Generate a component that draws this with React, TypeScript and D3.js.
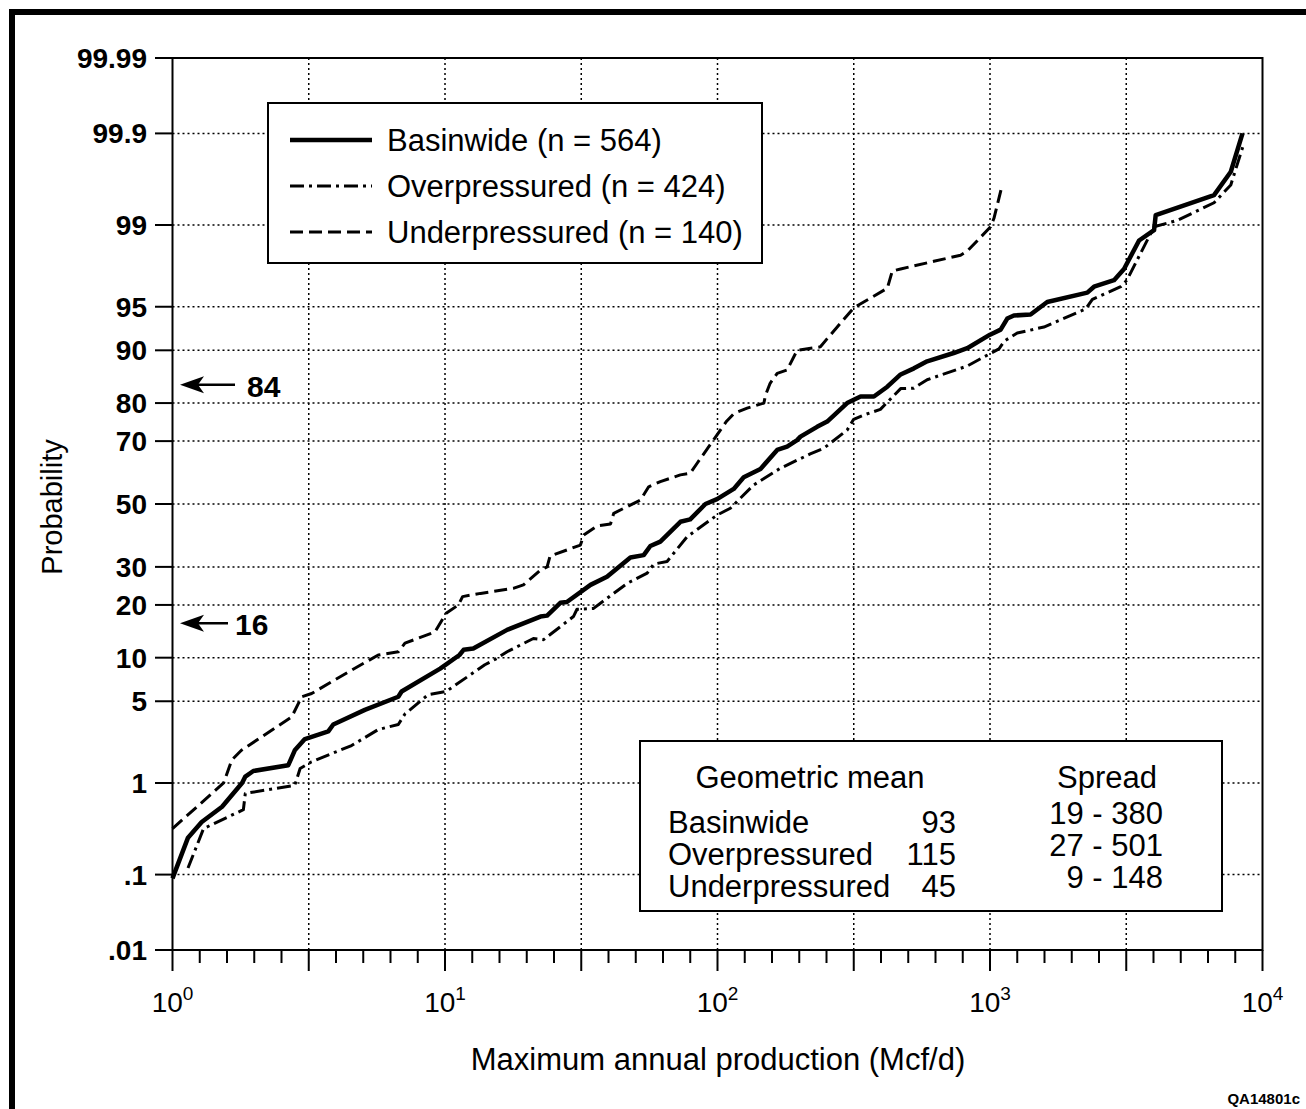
import * as d3 from "d3";

// values: [Mcf/d, probability %]
const basinwide: [number, number][] = [
  [1.0, 0.09], [1.14, 0.27], [1.28, 0.4], [1.52, 0.58], [1.8, 1.0], [1.85, 1.15],
  [1.98, 1.3], [2.66, 1.47], [2.81, 2.0], [3.06, 2.5], [3.73, 2.9], [3.89, 3.3],
  [5.08, 4.3], [6.74, 5.4], [6.93, 5.9], [9.6, 8.5], [11.3, 10.4], [11.7, 11.2],
  [12.7, 11.4], [16.9, 14.7], [22.4, 17.4], [23.7, 17.6], [26.5, 20.5], [28, 20.7],
  [34.2, 25], [39.3, 27.2], [47.9, 32.8], [53.6, 33.5], [56.7, 36.3], [61.7, 37.7],
  [73.1, 44.1], [79.4, 44.9], [90.3, 50], [99.6, 51.6], [114.7, 55], [124.8, 58.8],
  [143.8, 61.5], [165.6, 67.4], [180, 68.4], [196, 70.3], [201.6, 71.3], [232, 74],
  [252.7, 75.4], [299, 80], [335, 81.5], [375, 81.5], [420, 83.6], [470, 86],
  [526, 87.1], [588, 88.3], [736, 89.6], [825, 90.3], [1000, 92.1], [1094, 92.7],
  [1157, 93.9], [1224, 94.2], [1409, 94.3], [1622, 95.4], [2276, 96.1], [2408, 96.5],
  [2852, 96.9], [3103, 97.5], [3524, 98.6], [4000, 98.88], [4056, 99.2], [6640, 99.5],
  [7650, 99.72], [8445, 99.9],
];

const overpressured: [number, number][] = [
  [1.14, 0.12], [1.3, 0.34], [1.82, 0.54], [1.85, 0.79], [2.81, 0.95], [2.94, 1.37],
  [3.24, 1.58], [4.54, 2.2], [5.69, 3.0], [6.74, 3.3], [7.13, 4.0], [8.68, 5.6],
  [10.1, 5.9], [14.0, 9.0], [15.5, 9.9], [16.9, 10.9], [21.1, 13.1], [23, 12.9],
  [29.6, 17.4], [30.5, 19], [35.1, 19.2], [46.6, 25.4], [55.2, 28.2], [58.3, 30.8],
  [65.3, 31.6], [77.3, 39.2], [99.6, 46.3], [111.5, 48.6], [135.7, 56.3], [170, 61.7],
  [219, 66.2], [245.5, 67.9], [299, 73.1], [316, 76], [344, 77.1], [396, 78.5],
  [470, 83.2], [525, 83.3], [588, 85], [825, 87.5], [1000, 89.5], [1079, 90.2],
  [1130, 91.3], [1259, 92.3], [1577, 93.0], [2244, 94.8], [2375, 95.6], [3017, 96.5],
  [3180, 96.9], [4000, 98.96], [4875, 99.1], [6640, 99.4], [7650, 99.61], [8557, 99.87],
];

const underpressured: [number, number][] = [
  [1.0, 0.34], [1.54, 1.0], [1.65, 1.64], [1.79, 2.0], [2.74, 3.8], [2.98, 5.4],
  [3.24, 5.7], [4.54, 8.3], [5.69, 10.4], [6.74, 10.9], [7.13, 12.3], [9.18, 14.3],
  [10.1, 18.1], [11.2, 20], [11.6, 22], [13.5, 22.8], [17.8, 24.1], [19.4, 25],
  [22.4, 29.1], [23.7, 30], [24.3, 33.2], [31.4, 36.6], [32.3, 39.8], [36.1, 42.7],
  [40.5, 43.4], [41.6, 46.9], [52.1, 51.3], [55.9, 55.7], [61.7, 57.4], [73.1, 59.6],
  [79.4, 60.1], [84.2, 63.3], [97, 70.5], [108, 75.5], [115, 77.5], [128.5, 78.8],
  [148, 80], [150, 81.8], [156, 84.3], [165.6, 86.2], [180, 86.8], [196, 90],
  [238.6, 90.5], [252.7, 91.6], [316, 94.9], [420, 96.4], [438, 97.4], [470, 97.5],
  [622, 97.85], [780, 98.1], [825, 98.25], [1005, 98.96], [1034, 99.14], [1109, 99.61],
];

const yTicks = [99.99, 99.9, 99, 95, 90, 80, 70, 50, 30, 20, 10, 5, 1, 0.1, 0.01];
const yTickLabels = ["99.99", "99.9", "99", "95", "90", "80", "70", "50", "30", "20", "10", "5", "1", ".1", ".01"];
const xExponents = [0, 1, 2, 3, 4];

const legendItems = [
  { label: "Basinwide (n = 564)", key: "basin" },
  { label: "Overpressured (n = 424)", key: "over" },
  { label: "Underpressured (n = 140)", key: "under" },
];
const statNames = ["Basinwide", "Overpressured", "Underpressured"];
const statMeans = ["93", "115", "45"];
const statSpreads = ["19 - 380", "27 - 501", "9 - 148"];

const styles: Record<string, { w: number; dash: string }> = {
  basin: { w: 4.5, dash: "none" },
  over: { w: 3, dash: "14,5,3,5" },
  under: { w: 3, dash: "13,6" },
};

// inverse normal cdf (Acklam)
function probit(p: number) {
  const a = [-39.69683028665376, 220.9460984245205, -275.9285104469687, 138.357751867269, -30.66479806614716, 2.506628277459239];
  const b = [-54.47609879822406, 161.5858368580409, -155.6989798598866, 66.80131188771972, -13.28068155288572];
  const c = [-0.007784894002430293, -0.3223964580411365, -2.400758277161838, -2.549732539343734, 4.374664141464968, 2.938163982698783];
  const d = [0.007784695709041462, 0.3224671290700398, 2.445134137142996, 3.754408675907652];
  const plow = 0.02425;
  if (p < plow) {
    const q = Math.sqrt(-2 * Math.log(p));
    return (((((c[0] * q + c[1]) * q + c[2]) * q + c[3]) * q + c[4]) * q + c[5]) /
      ((((d[0] * q + d[1]) * q + d[2]) * q + d[3]) * q + 1);
  }
  if (p <= 1 - plow) {
    const q = p - 0.5;
    const r = q * q;
    return ((((((a[0] * r + a[1]) * r + a[2]) * r + a[3]) * r + a[4]) * r + a[5]) * q) /
      (((((b[0] * r + b[1]) * r + b[2]) * r + b[3]) * r + b[4]) * r + 1);
  }
  const q = Math.sqrt(-2 * Math.log(1 - p));
  return -(((((c[0] * q + c[1]) * q + c[2]) * q + c[3]) * q + c[4]) * q + c[5]) /
    ((((d[0] * q + d[1]) * q + d[2]) * q + d[3]) * q + 1);
}

const W = 1306;
const H = 1109;
const left = 172.5, right = 1262.5, top = 58, bottom = 950;
const font = "'Liberation Sans', Arial, Helvetica, sans-serif";

export default function App() {
  const x = d3.scaleLog().domain([1, 10000]).range([left, right]);
  const z = d3.scaleLinear().domain([probit(0.0001), probit(0.9999)]).range([bottom, top]);
  const y = (p: number) => z(probit(p / 100));

  const line = d3.line<[number, number]>().x((d) => x(d[0])).y((d) => y(d[1]));

  const gridX = d3.range(1, 8).map((k) => Math.pow(10, k / 2));
  const minorX = d3.range(0, 41).filter((k) => k % 5 !== 0).map((k) => Math.pow(10, k / 10));
  const majorX = d3.range(0, 9).map((k) => Math.pow(10, k / 2));

  const series = [
    { data: basinwide, key: "basin" },
    { data: overpressured, key: "over" },
    { data: underpressured, key: "under" },
  ];

  const arrow = (p: number, len: number) => {
    const yy = y(p);
    return (
      <g>
        <path d={`M180,${yy} L204,${yy - 8.5} L198,${yy} L204,${yy + 8.5} Z`} fill="#000" />
        <line x1={198} x2={180 + len} y1={yy} y2={yy} stroke="#000" strokeWidth={2.5} />
      </g>
    );
  };

  return (
    <svg width={W} height={H} style={{ position: "absolute", left: 0, top: 0, background: "#fff" }} fontFamily={font}>
      <rect x={0} y={0} width={W} height={H} fill="#fff" />
      {/* outer frame */}
      <rect x={9} y={9} width={W - 9} height={6} fill="#000" />
      <rect x={9} y={9} width={6} height={H - 9} fill="#000" />

      {/* grid */}
      {gridX.map((v) => (
        <line key={"gx" + v} x1={x(v)} x2={x(v)} y1={top} y2={bottom} stroke="#000" strokeWidth={1.5} strokeDasharray="2,3" />
      ))}
      {yTicks.slice(1, -1).map((p) => (
        <line key={"gy" + p} x1={left} x2={right} y1={y(p)} y2={y(p)} stroke="#000" strokeWidth={1.5} strokeDasharray="2,3" />
      ))}

      {/* frame & ticks */}
      <rect x={left} y={top} width={right - left} height={bottom - top} fill="none" stroke="#000" strokeWidth={2} />
      {yTicks.map((p, i) => (
        <g key={"yt" + p}>
          <line x1={155} x2={left} y1={y(p)} y2={y(p)} stroke="#000" strokeWidth={2} />
          <text x={147} y={y(p)} dy="0.36em" textAnchor="end" fontSize={28} fontWeight="bold">
            {yTickLabels[i]}
          </text>
        </g>
      ))}
      {minorX.map((v) => (
        <line key={"mx" + v} x1={x(v)} x2={x(v)} y1={bottom} y2={bottom + 13} stroke="#000" strokeWidth={2} />
      ))}
      {majorX.map((v) => (
        <line key={"Mx" + v} x1={x(v)} x2={x(v)} y1={bottom} y2={bottom + 21} stroke="#000" strokeWidth={2} />
      ))}
      {xExponents.map((e) => (
        <text key={"xl" + e} x={x(Math.pow(10, e))} y={1012} textAnchor="middle" fontSize={28}>
          <tspan>10</tspan>
          <tspan dy={-12} fontSize={19}>{e}</tspan>
        </text>
      ))}

      {/* axis titles */}
      <text x={718} y={1070} textAnchor="middle" fontSize={31}>
        Maximum annual production (Mcf/d)
      </text>
      <text transform="translate(62,507) rotate(-90)" textAnchor="middle" fontSize={29}>
        Probability
      </text>

      {/* curves */}
      {series.map((s) => (
        <path
          key={s.key}
          d={line(s.data) || ""}
          fill="none"
          stroke="#000"
          strokeWidth={styles[s.key].w}
          strokeDasharray={styles[s.key].dash}
          strokeLinejoin="round"
        />
      ))}

      {/* 84 / 16 markers */}
      {arrow(84, 55)}
      <text x={247} y={y(84)} dy="0.4em" fontSize={30} fontWeight="bold">84</text>
      {arrow(16, 48)}
      <text x={235} y={y(16)} dy="0.4em" fontSize={30} fontWeight="bold">16</text>

      {/* legend */}
      <rect x={268} y={103} width={494} height={160} fill="#fff" stroke="#000" strokeWidth={2} />
      {legendItems.map((it, i) => {
        const ly = 140 + i * 46;
        return (
          <g key={it.key}>
            <line x1={290} x2={372} y1={ly} y2={ly} stroke="#000" strokeWidth={styles[it.key].w} strokeDasharray={styles[it.key].dash} />
            <text x={387} y={ly} dy="0.36em" fontSize={31}>{it.label}</text>
          </g>
        );
      })}

      {/* stats box */}
      <rect x={640} y={741} width={582} height={170} fill="#fff" stroke="#000" strokeWidth={2} />
      <text x={810} y={788} textAnchor="middle" fontSize={31}>Geometric mean</text>
      <text x={1107} y={788} textAnchor="middle" fontSize={31}>Spread</text>
      {statNames.map((n, i) => (
        <g key={n}>
          <text x={668} y={833 + i * 32} fontSize={31}>{n}</text>
          <text x={956} y={833 + i * 32} textAnchor="end" fontSize={31}>{statMeans[i]}</text>
          <text x={1163} y={824 + i * 32} textAnchor="end" fontSize={31}>{statSpreads[i]}</text>
        </g>
      ))}

      <text x={1300} y={1104} textAnchor="end" fontSize={15} fontWeight="bold">QA14801c</text>
    </svg>
  );
}
